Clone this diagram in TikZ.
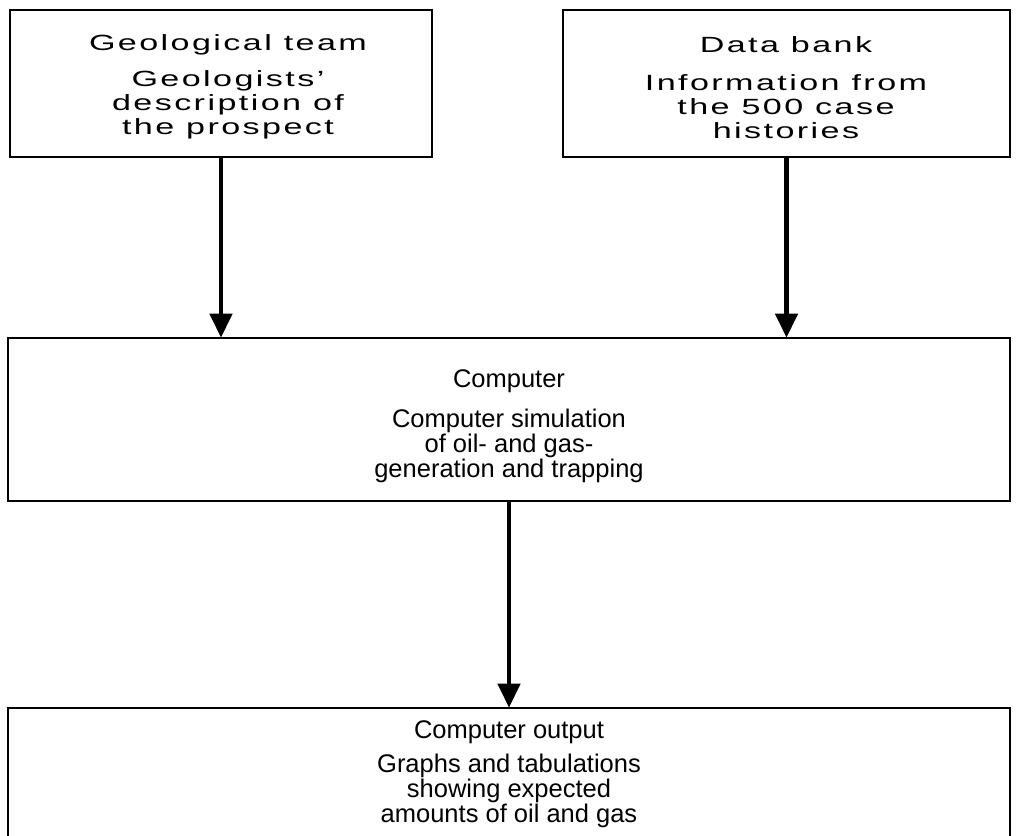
\documentclass[tikz,border=0pt]{standalone}
\usepackage{fontspec}
\setmainfont{Liberation Sans}
\newfontfamily\widefont[FakeStretch=1.55,LetterSpace=11]{Liberation Sans}
\newfontfamily\lowfont{Liberation Sans}
\usetikzlibrary{arrows.meta}
\tikzset{
  box/.style={draw, line width=2.6pt, inner sep=0pt, minimum width=#1},
  toptext/.style={align=center, font=\widefont\fontsize{22}{24}\selectfont, inner sep=0pt},
  lowtext/.style={align=center, font=\lowfont\fontsize{25.5}{25}\selectfont, inner sep=0pt},
  arr/.style={line width=4.5pt, -{Triangle[width=22pt,length=24pt]}, shorten >=-1pt}
}
\begin{document}
\begin{tikzpicture}[x=1pt,y=-1pt]
\useasboundingbox (0,0) rectangle (1016,835);
\clip (0,0) rectangle (1016,835);
% boxes
\node[box=422pt, minimum height=147pt] (geo) at (221,83.5) {};
\node[box=447pt, minimum height=147pt] (data) at (786.5,83.5) {};
\node[box=1002pt, minimum height=163pt] (comp) at (509,419.5) {};
\node[box=1002pt, minimum height=170pt] (out) at (509,793) {};
% texts
\node[toptext] (geoT) at (228,45) {Geological team};
\node[toptext] (geoB) at (228,105) {Geologists’\\description of\\the prospect};
\node[toptext] (dataT) at (786,45) {Data bank};
\node[toptext] (dataB) at (786,107) {Information from\\the 500 case\\histories};
\node[lowtext] (compT) at (509,381) {Computer};
\node[lowtext] (compB) at (509,446) {Computer simulation\\of oil- and gas-\\generation and trapping};
\node[lowtext] (outT) at (509,732) {Computer output};
\node[lowtext] (outB) at (509,791) {Graphs and tabulations\\showing expected\\amounts of oil and gas};
% arrows
\draw[arr] (geo.south) -- (geo.south |- comp.north);
\draw[arr] (data.south) -- (data.south |- comp.north);
\draw[arr] (comp.south) -- (out.north);
\end{tikzpicture}
\end{document}
